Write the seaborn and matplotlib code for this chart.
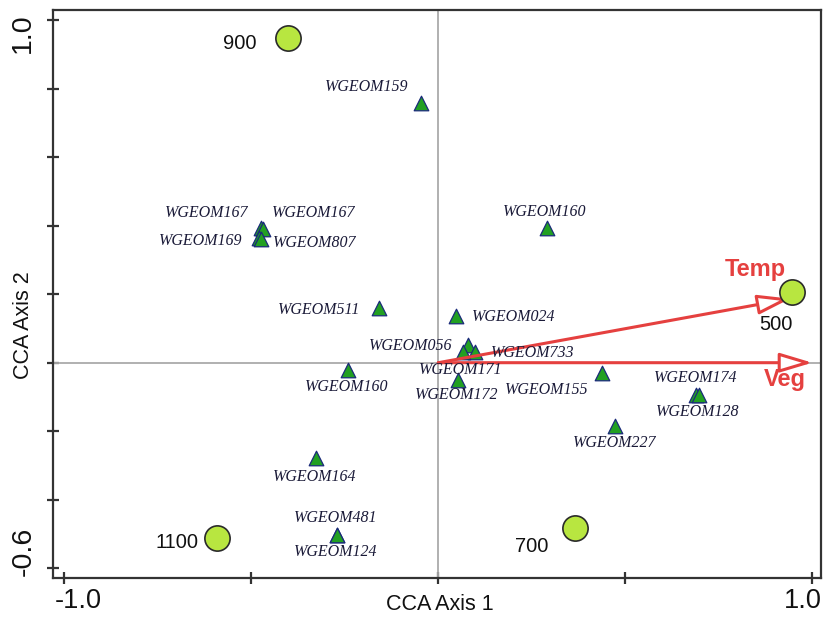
import matplotlib
matplotlib.use("Agg")
import matplotlib.pyplot as plt
from matplotlib.transforms import ScaledTranslation
import seaborn as sns
import pandas as pd

# ---------------- data ----------------
species_names = ['WGEOM159', 'WGEOM160', 'WGEOM167', 'WGEOM167', 'WGEOM169', 'WGEOM807',
                 'WGEOM511', 'WGEOM024', 'WGEOM056', 'WGEOM733', 'WGEOM171', 'WGEOM172',
                 'WGEOM160', 'WGEOM155', 'WGEOM174', 'WGEOM128', 'WGEOM227', 'WGEOM164',
                 'WGEOM481', 'WGEOM124']
species_x = [-0.045, 0.291, -0.473, -0.470, -0.479, -0.473,
             -0.158, 0.048, 0.080, 0.099, 0.067, 0.053,
             -0.241, 0.439, 0.690, 0.698, 0.473, -0.326,
             -0.270, -0.270]
species_y = [0.759, 0.394, 0.394, 0.391, 0.365, 0.362,
             0.161, 0.137, 0.053, 0.032, 0.032, -0.050,
             -0.020, -0.029, -0.093, -0.093, -0.184, -0.277,
             -0.502, -0.502]

site_names = ['900', '500', '700', '1100']
site_x = [-0.403, 0.947, 0.366, -0.591]
site_y = [0.949, 0.207, -0.482, -0.511]

env_names = ['Temp', 'Veg']
env_x = [0.941, 1.000]
env_y = [0.187, 0.000]

x_ticks = [-1.0, -0.5, 0.0, 0.5, 1.0]
x_ticklabels = ['-1.0', '', '', '', '1.0']
y_ticks = [-0.6, -0.4, -0.2, 0.0, 0.2, 0.4, 0.6, 0.8, 1.0]
y_ticklabels = ['-0.6', '', '', '', '', '', '', '', '1.0']

# ---------------- layout / style (pixel offsets for labels) ----------------
species_offsets = [(-55, -16), (-2, -16), (-55, -15), (51, -16), (-58, 3), (53, 4),
                   (-60, 2), (57, 1), (-58, 1), (57, 1), (-3, 18), (-1, 15),
                   (-1, 17), (-56, 17), (-1, -17), (-2, 17), (-1, 17), (-2, 19),
                   (-2, -17), (-2, 17)]
site_offsets = [(-48, 6), (-17, 33), (-43, 19), (-40, 5)]
env_offsets = [(-35, -29), (-27, 17)]

RED = '#e5403f'
PX = 0.72  # points per pixel at 100 dpi

sns.set_theme(style='white')
plt.rcParams['font.family'] = ['Liberation Sans', 'DejaVu Sans']

W, H = 823, 619
fig = plt.figure(figsize=(W / 100, H / 100), dpi=100)
L, R, T, B = 53, 821, 10, 578
ax = fig.add_axes([L / W, (H - B) / H, (R - L) / W, (B - T) / H])

# axes ranges
x0px, y0px, sx, sy = 438.3, 362.7, 374.0, 342.5
ax.set_xlim((L - x0px) / sx, (R - x0px) / sx)
ax.set_ylim((y0px - B) / sy, (y0px - T) / sy)

# crosshair
ax.axhline(0, color='#aaaaaa', lw=1.3, zorder=1)
ax.axvline(0, color='#aaaaaa', lw=1.3, zorder=1)

sp = pd.DataFrame({'x': species_x, 'y': species_y, 'name': species_names})
st = pd.DataFrame({'x': site_x, 'y': site_y, 'name': site_names})

sns.scatterplot(data=sp, x='x', y='y', marker='^', s=110, color='#22a022',
                edgecolor='#1a2a7a', linewidth=0.9, ax=ax, zorder=3, legend=False)

# environmental arrows
for name, ex, ey, (dx, dy) in zip(env_names, env_x, env_y, env_offsets):
    ax.annotate('', xy=(ex, ey), xytext=(0, 0),
                arrowprops=dict(arrowstyle='-|>,head_length=2.0,head_width=0.6',
                                ec=RED, fc='white', lw=2.2, shrinkA=0, shrinkB=0,
                                mutation_scale=10),
                zorder=4)
    ax.annotate(name, (ex, ey), xytext=(dx * PX, -dy * PX), textcoords='offset points',
                ha='center', va='center', color=RED, fontsize=17, fontweight='bold',
                zorder=6)

sns.scatterplot(data=st, x='x', y='y', marker='o', s=330, color='#b8e640',
                edgecolor='#2a2a2a', linewidth=1.2, ax=ax, zorder=5, legend=False)

for name, px_, py_, (dx, dy) in zip(species_names, species_x, species_y, species_offsets):
    ax.annotate(name, (px_, py_), xytext=(dx * PX, -dy * PX), textcoords='offset points',
                ha='center', va='center', fontsize=11.5, color='#1a1a38',
                family=['Liberation Serif', 'DejaVu Serif'], style='italic', zorder=6)

for name, px_, py_, (dx, dy) in zip(site_names, site_x, site_y, site_offsets):
    ax.annotate(name, (px_, py_), xytext=(dx * PX, -dy * PX), textcoords='offset points',
                ha='center', va='center', fontsize=14.5, color='#111111', zorder=6)

# axes styling
for s in ax.spines.values():
    s.set_color('#333333')
    s.set_linewidth(1.6)
    s.set_visible(True)

ax.set_xticks(x_ticks)
ax.set_xticklabels(x_ticklabels)
ax.set_yticks(y_ticks)
ax.set_yticklabels(y_ticklabels, rotation=90)
ax.tick_params(axis='both', direction='inout', length=8, width=1.6, color='#333333',
               labelcolor='#111111', bottom=True, left=True)
ax.tick_params(axis='x', labelsize=19.5, pad=3)
ax.tick_params(axis='y', labelsize=20.5, pad=8)

def shift(lbl, dx_px, dy_px):
    lbl.set_transform(lbl.get_transform() +
                      ScaledTranslation(dx_px / 100, dy_px / 100, fig.dpi_scale_trans))

xl = ax.get_xticklabels()
xl[0].set_ha('left')
shift(xl[0], -10, 0)
xl[-1].set_ha('right')
shift(xl[-1], 9, 0)
yl = ax.get_yticklabels()
yl[0].set_va('bottom')
shift(yl[0], 0, -8)
yl[-1].set_va('top')
shift(yl[-1], 0, 7)

ax.set_xlabel('CCA Axis 1', fontsize=15.5, color='#111111', va='center')
ax.xaxis.set_label_coords((440 - L) / (R - L), -(604 - B) / (B - T))
ax.set_ylabel('CCA Axis 2', fontsize=15.5, color='#111111', va='center')
ax.yaxis.set_label_coords(-(L - 24) / (R - L), (B - 325) / (B - T))

fig.savefig('out.png', dpi=100)
